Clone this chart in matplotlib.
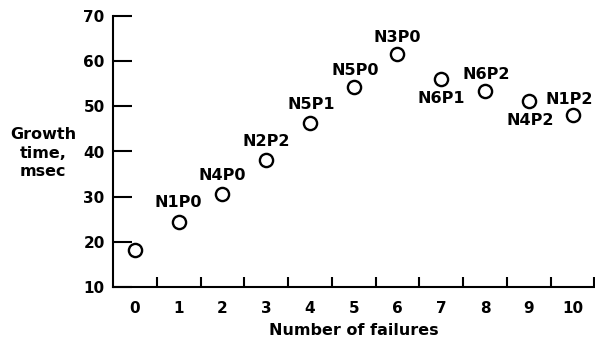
import matplotlib.pyplot as plt

failures = [0, 1, 2, 3, 4, 5, 6, 7, 8, 9, 10]
growth_time = [18.2, 24.3, 30.7, 38.2, 46.4, 54.3, 61.6, 56.1, 53.4, 51.2, 48.1]
codes = ["", "N1P0", "N4P0", "N2P2", "N5P1", "N5P0", "N3P0",
         "N6P1", "N6P2", "N4P2", "N1P2"]

# label offsets in points (placement only)
offsets = [(0, 0), (0, 14), (0, 13), (0, 13), (1, 13), (1, 12), (0, 12),
           (0, -14), (1, 12), (1, -14), (-2.5, 11)]

plt.rcParams['font.family'] = ['DejaVu Sans']
plt.rcParams['font.weight'] = 'bold'

fig = plt.figure(figsize=(5.95, 3.39), dpi=100)
ax = fig.add_axes([113 / 595, 1 - 287 / 339, 482 / 595 - 0.001, 271 / 339])

ax.plot(failures, growth_time, 'o', mfc='white', mec='black',
        markersize=9.5, markeredgewidth=1.7, linestyle='none', clip_on=False)

for x, y, c, off in zip(failures, growth_time, codes, offsets):
    if c:
        ax.annotate(c, (x, y), xytext=off, textcoords='offset points',
                    ha='center', va='center', fontsize=11.5, fontweight='bold')

ax.set_xlim(-0.5, 10.5)
ax.set_ylim(10, 70)
ax.set_xticks(failures)
ax.set_xticks([i + 0.5 for i in failures], minor=True)
ax.set_yticks([10, 20, 30, 40, 50, 60, 70])

ax.spines['top'].set_visible(False)
ax.spines['right'].set_visible(False)
ax.spines['left'].set_linewidth(1.5)
ax.spines['bottom'].set_linewidth(1.5)

ax.tick_params(axis='x', which='major', length=0, pad=10, labelsize=11)
ax.tick_params(axis='x', which='minor', direction='in', length=7, width=1.5)
ax.tick_params(axis='y', direction='in', length=14, width=1.5, pad=6,
               labelsize=11)

ax.set_xlabel("Number of failures", fontsize=11.5, fontweight='bold', labelpad=5)
fig.text(43 / 595, 1 - 153 / 339, "Growth\ntime,\nmsec", ha='center',
         va='center', fontsize=11.5, fontweight='bold', linespacing=1.3)

fig.savefig("out.png", dpi=100)
